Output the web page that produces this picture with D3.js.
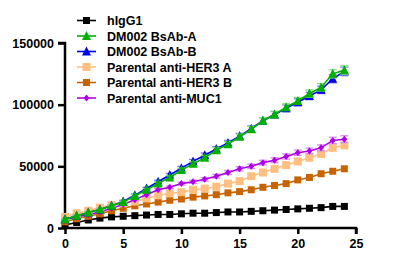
<!DOCTYPE html>
<html>
<head>
<meta charset="utf-8">
<script src="https://cdn.jsdelivr.net/npm/d3@7"></script>
<style>
  body { margin: 0; background: #fff; }
  text { font-family: "Liberation Sans", Arial, sans-serif; font-weight: bold; }
</style>
</head>
<body>
<svg id="chart"></svg>
<script>
// time points (x) and series values
const hours = d3.range(0, 25);
const hIgG1 = [2500,4500,6500,8000,9000,9500,10000,10500,11000,11000,11500,12000,12000,12500,13000,13000,13500,14000,14500,15000,15500,16000,16500,17500,17500];
const bsAbA = [7000,10000,12500,15000,18000,21000,26000,31000,36000,41000,47000,52000,57000,63000,68000,74000,80000,87000,92000,98000,103000,109000,114000,125000,128000];
const bsAbB = [7000,10000,12500,15000,18000,21500,26500,32000,37500,43000,48500,54000,59000,64000,69000,74500,80500,87000,92000,97000,102000,107000,112000,121000,127000];
const her3A = [9000,12000,14000,16500,18500,20000,21500,24000,26500,28000,29000,31000,32000,33500,36000,38000,42000,45000,48000,51000,54000,57000,60000,65000,67000];
const her3B = [5000,7500,9500,11500,14000,16000,18000,19500,21000,22500,23500,25000,26000,27000,28500,29500,31000,33000,34500,36000,39000,41000,44000,46000,48000];
const muc1  = [7000,9000,11000,13000,16000,19000,23000,27000,31000,33000,36000,37500,39500,42000,45000,48000,50000,53000,55000,58000,61000,62500,65000,71000,72000];
const errAB = [500,500,500,600,700,800,1000,1000,1200,1300,1500,1600,1800,2000,2000,2200,2300,2500,2500,2700,2800,3000,3000,3300,3500];
const errMuc = [400,400,500,500,600,700,800,900,1000,1100,1200,1300,1400,1500,1600,1700,1800,1900,2000,2100,2200,2300,2400,2600,2800];
const xTicks = [0, 5, 10, 15, 20, 25];
const yTicks = [0, 50000, 100000, 150000];

const width = 400, height = 268;

const series = [
  {name: "hIgG1", values: hIgG1, color: "#000000", err: null, errColor: null, shape: "square", size: 7},
  {name: "DM002 BsAb-A", values: bsAbA, color: "#00b000", err: errAB, errColor: "#7fdc7f", shape: "triangle", size: 8},
  {name: "DM002 BsAb-B", values: bsAbB, color: "#0000f0", err: errAB, errColor: "#7f7ff8", shape: "triangle", size: 8},
  {name: "Parental anti-HER3 A", values: her3A, color: "#ffbf80", err: null, errColor: null, shape: "square", size: 8},
  {name: "Parental anti-HER3 B", values: her3B, color: "#c86400", err: null, errColor: null, shape: "square", size: 7},
  {name: "Parental anti-MUC1", values: muc1, color: "#b000e8", err: errMuc, errColor: "#d88cf4", shape: "diamond", size: 6}
];

// draw order: green on top of blue
const drawOrder = [0, 4, 3, 5, 2, 1];

const svg = d3.select("#chart")
    .attr("width", width)
    .attr("height", height);

const x = d3.scaleLinear().domain([0, 25]).range([65, 356]);
const y = d3.scaleLinear().domain([0, 150000]).range([228, 43]);

// y axis
const yAxis = svg.append("g")
    .attr("transform", `translate(${x(0)},0)`)
    .call(d3.axisLeft(y).tickValues(yTicks).tickSize(7).tickPadding(4).tickFormat(d3.format("d")));
// x axis
const xAxis = svg.append("g")
    .attr("transform", `translate(0,${y(0)})`)
    .call(d3.axisBottom(x).tickValues(xTicks).tickSize(6).tickPadding(5));

[yAxis, xAxis].forEach(a => {
  a.select(".domain").attr("stroke", "#000").attr("stroke-width", 2.5);
  a.selectAll(".tick line").attr("stroke", "#000").attr("stroke-width", 2.5);
  a.selectAll(".tick text").attr("fill", "#000").style("font-size", "12.5px")
    .style("font-family", "'Liberation Sans', Arial, sans-serif").style("font-weight", "bold");
});
yAxis.select(".domain").attr("d", `M-7,${y(150000)}H0V${y(0) + 1.25}`);
xAxis.select(".domain").attr("d", `M${x(0) - 1.25},0H${x(25)}V6`);

function symbolPath(shape, size) {
  const s = size / 2;
  if (shape === "square") return `M${-s},${-s}h${size}v${size}h${-size}Z`;
  if (shape === "triangle") return `M0,${-s - 1}L${s + 0.5},${s}L${-s - 0.5},${s}Z`;
  return `M0,${-s - 0.5}L${s},0L0,${s + 0.5}L${-s},0Z`;
}

const line = d3.line().x((d, i) => x(hours[i])).y(d => y(d));

drawOrder.forEach(k => {
  const sr = series[k];
  const g = svg.append("g");
  if (sr.err) {
    const eb = g.selectAll(".eb").data(sr.values).enter().append("g")
        .attr("stroke", sr.errColor).attr("stroke-width", 1.3).attr("fill", "none");
    eb.append("line")
        .attr("x1", (d, i) => x(hours[i])).attr("x2", (d, i) => x(hours[i]))
        .attr("y1", (d, i) => y(d + sr.err[i])).attr("y2", (d, i) => y(d - sr.err[i]));
    eb.append("line")
        .attr("x1", (d, i) => x(hours[i]) - 4).attr("x2", (d, i) => x(hours[i]) + 4)
        .attr("y1", (d, i) => y(d + sr.err[i])).attr("y2", (d, i) => y(d + sr.err[i]));
    eb.append("line")
        .attr("x1", (d, i) => x(hours[i]) - 4).attr("x2", (d, i) => x(hours[i]) + 4)
        .attr("y1", (d, i) => y(d - sr.err[i])).attr("y2", (d, i) => y(d - sr.err[i]));
  }
  g.append("path")
      .attr("d", line(sr.values))
      .attr("fill", "none")
      .attr("stroke", sr.color)
      .attr("stroke-width", 1.6);
  g.selectAll(".pt").data(sr.values).enter().append("path")
      .attr("transform", (d, i) => `translate(${x(hours[i])},${y(d)})`)
      .attr("d", symbolPath(sr.shape, sr.size))
      .attr("fill", sr.color);
});

// legend
const legend = svg.append("g");
series.forEach((sr, i) => {
  const ly = 20.5 + i * 15.5;
  legend.append("line")
      .attr("x1", 77).attr("x2", 96).attr("y1", ly).attr("y2", ly)
      .attr("stroke", sr.color).attr("stroke-width", 1.6);
  legend.append("path")
      .attr("transform", `translate(86.5,${ly})`)
      .attr("d", symbolPath(sr.shape, sr.size))
      .attr("fill", sr.color);
  legend.append("text")
      .attr("x", 107).attr("y", ly)
      .attr("dy", "0.36em")
      .style("font-size", "12.5px")
      .attr("fill", "#000")
      .text(sr.name);
});
</script>
</body>
</html>
